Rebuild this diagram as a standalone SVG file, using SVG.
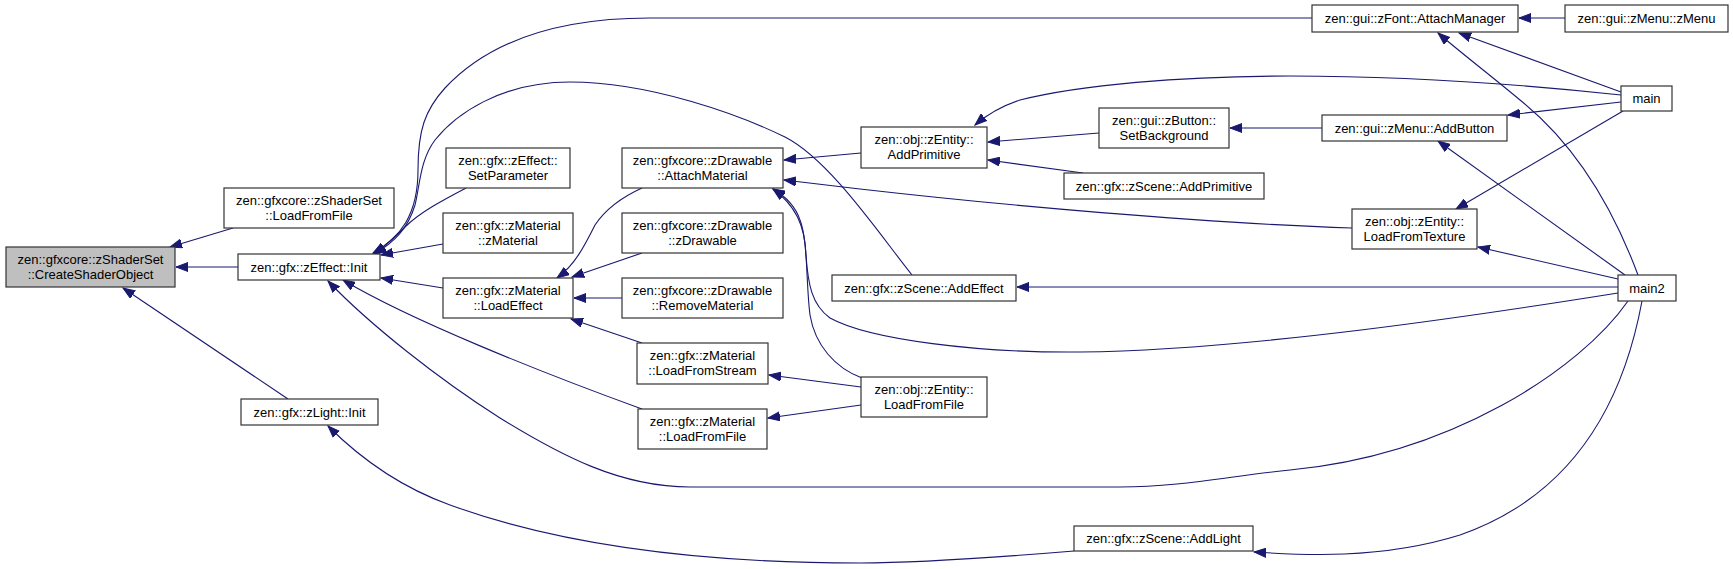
<svg xmlns="http://www.w3.org/2000/svg" width="1733" height="569" viewBox="0 0 1733 569">
<style>
.n rect{fill:#ffffff;stroke:#333333;stroke-width:1.2}
.n.root rect{fill:#bfbfbf}
.n text{font-family:"Liberation Sans",Arial,sans-serif;font-size:13px;fill:#000000;text-anchor:middle}
.e path{fill:none;stroke:#191970;stroke-width:1.1;marker-end:url(#ah)}
</style>
<defs>
<marker id="ah" markerUnits="userSpaceOnUse" markerWidth="13" markerHeight="10" refX="12" refY="5" orient="auto" viewBox="0 0 13 10">
<path d="M0,0.5 L12,5 L0,9.5 z" fill="#191970" stroke="#191970" stroke-width="1"/>
</marker>
</defs>
<rect width="1733" height="569" fill="#ffffff"/>
<g id="edges" class="e">
<path d="M233,228 L170,247"/>
<path d="M238,267 L176,267"/>
<path d="M288,399 L123,288"/>
<path d="M466,188 C445,199 420,212 405,227 C395,237 385,246 374,254"/>
<path d="M443,244 L381,255"/>
<path d="M443,288 L381,278"/>
<path d="M642,409 C540,372 410,320 343,280"/>
<path d="M1312,18 L650,18 C560,18 490,40 445,88 C425,110 418,130 418,170 C418,215 400,238 373,253"/>
<path d="M912,275 C880,235 830,160 785,137 C740,115 650,82 570,82 C500,82 455,115 435,140 C420,160 420,185 415,205 C408,228 395,242 374,254"/>
<path d="M1628,301 C1580,370 1450,455 1290,470 C1230,476 1180,487 1120,487 L690,487 C620,487 560,455 500,418 C440,380 370,325 328,281"/>
<path d="M1074,551 C990,558 920,563 860,563 C700,563 560,545 450,505 C400,487 360,458 328,426"/>
<path d="M1642,301 C1620,420 1560,500 1460,535 C1380,560 1300,555 1254,552"/>
<path d="M1618,287 L1017,287"/>
<path d="M1618,279 L1478,247"/>
<path d="M1625,275 L1438,141"/>
<path d="M1638,275 C1610,200 1570,140 1520,100 C1490,75 1460,52 1438,33"/>
<path d="M1621,92 L1459,33"/>
<path d="M1621,102 L1508,115"/>
<path d="M1623,111 L1456,209"/>
<path d="M1621,95 C1500,82 1380,76 1290,76 C1180,76 1080,85 1020,100 C1005,105 990,112 975,125"/>
<path d="M1565,18 L1519,18"/>
<path d="M1322,128 L1230,128"/>
<path d="M1099,133 L988,142"/>
<path d="M1083,173 L988,160"/>
<path d="M861,153 L784,160"/>
<path d="M1352,228 C1200,223 1000,205 860,189 L784,180"/>
<path d="M862,378 C835,368 815,345 810,315 C806,285 808,240 800,220 C795,205 785,196 773,189"/>
<path d="M1618,293 C1480,315 1250,350 1080,352 C980,353 870,340 830,318 C812,305 808,285 806,255 C805,225 795,205 773,189"/>
<path d="M861,387 L769,375"/>
<path d="M861,405 L768,418"/>
<path d="M642,188 C620,198 605,210 595,225 C585,245 575,265 557,278"/>
<path d="M642,253 L572,277"/>
<path d="M622,298 L574,298"/>
<path d="M642,343 L571,319"/>
</g>
<g id="n0" class="n root"><rect x="6" y="247" width="169" height="40"/><text x="90.5" y="264">zen::gfxcore::zShaderSet</text><text x="90.5" y="279">::CreateShaderObject</text></g>
<g id="n1" class="n"><rect x="224" y="188" width="170" height="40"/><text x="309" y="205">zen::gfxcore::zShaderSet</text><text x="309" y="220">::LoadFromFile</text></g>
<g id="n2" class="n"><rect x="238" y="254" width="142" height="26"/><text x="309" y="271.5">zen::gfx::zEffect::Init</text></g>
<g id="n3" class="n"><rect x="241" y="399" width="137" height="26"/><text x="309.5" y="416.5">zen::gfx::zLight::Init</text></g>
<g id="n4" class="n"><rect x="446" y="148" width="124" height="40"/><text x="508" y="165">zen::gfx::zEffect::</text><text x="508" y="180">SetParameter</text></g>
<g id="n5" class="n"><rect x="443" y="213" width="130" height="40"/><text x="508" y="230">zen::gfx::zMaterial</text><text x="508" y="245">::zMaterial</text></g>
<g id="n6" class="n"><rect x="443" y="278" width="130" height="40"/><text x="508" y="295">zen::gfx::zMaterial</text><text x="508" y="310">::LoadEffect</text></g>
<g id="n7" class="n"><rect x="622" y="148" width="161" height="40"/><text x="702.5" y="165">zen::gfxcore::zDrawable</text><text x="702.5" y="180">::AttachMaterial</text></g>
<g id="n8" class="n"><rect x="622" y="213" width="161" height="40"/><text x="702.5" y="230">zen::gfxcore::zDrawable</text><text x="702.5" y="245">::zDrawable</text></g>
<g id="n9" class="n"><rect x="622" y="278" width="161" height="40"/><text x="702.5" y="295">zen::gfxcore::zDrawable</text><text x="702.5" y="310">::RemoveMaterial</text></g>
<g id="n10" class="n"><rect x="637" y="343" width="131" height="41"/><text x="702.5" y="360">zen::gfx::zMaterial</text><text x="702.5" y="375">::LoadFromStream</text></g>
<g id="n11" class="n"><rect x="638" y="409" width="129" height="40"/><text x="702.5" y="426">zen::gfx::zMaterial</text><text x="702.5" y="441">::LoadFromFile</text></g>
<g id="n12" class="n"><rect x="861" y="127" width="126" height="41"/><text x="924" y="144">zen::obj::zEntity::</text><text x="924" y="159">AddPrimitive</text></g>
<g id="n13" class="n"><rect x="832" y="275" width="184" height="26"/><text x="924" y="292.5">zen::gfx::zScene::AddEffect</text></g>
<g id="n14" class="n"><rect x="861" y="377" width="126" height="40"/><text x="924" y="394">zen::obj::zEntity::</text><text x="924" y="409">LoadFromFile</text></g>
<g id="n15" class="n"><rect x="1099" y="108" width="130" height="40"/><text x="1164" y="125">zen::gui::zButton::</text><text x="1164" y="140">SetBackground</text></g>
<g id="n16" class="n"><rect x="1064" y="173" width="200" height="26"/><text x="1164" y="190.5">zen::gfx::zScene::AddPrimitive</text></g>
<g id="n17" class="n"><rect x="1074" y="526" width="179" height="25"/><text x="1163.5" y="543">zen::gfx::zScene::AddLight</text></g>
<g id="n18" class="n"><rect x="1312" y="5" width="206" height="27"/><text x="1415" y="23">zen::gui::zFont::AttachManager</text></g>
<g id="n19" class="n"><rect x="1565" y="5" width="163" height="27"/><text x="1646.5" y="23">zen::gui::zMenu::zMenu</text></g>
<g id="n20" class="n"><rect x="1322" y="115" width="185" height="26"/><text x="1414.5" y="132.5">zen::gui::zMenu::AddButton</text></g>
<g id="n21" class="n"><rect x="1352" y="209" width="125" height="40"/><text x="1414.5" y="226">zen::obj::zEntity::</text><text x="1414.5" y="241">LoadFromTexture</text></g>
<g id="n22" class="n"><rect x="1621" y="86" width="51" height="25"/><text x="1646.5" y="103">main</text></g>
<g id="n23" class="n"><rect x="1618" y="275" width="58" height="26"/><text x="1647" y="292.5">main2</text></g>
</svg>
